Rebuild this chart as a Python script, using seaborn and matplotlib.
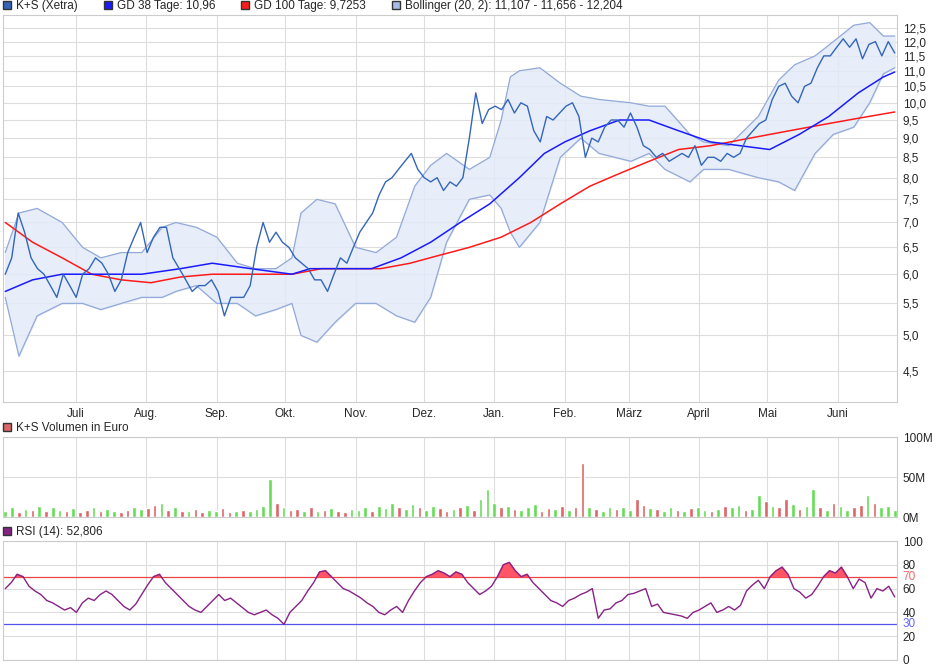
import numpy as np
import pandas as pd
import matplotlib
matplotlib.use('Agg')
import matplotlib.pyplot as plt
from matplotlib.patches import Patch
from matplotlib.ticker import FixedLocator, FuncFormatter
import seaborn as sns

sns.set_theme(style='white')
plt.rcParams['font.family'] = 'Liberation Sans'

START = pd.Timestamp('2020-05-31')
END_DAY = 391

PRICE = [6.0, 6.3, 7.2, 6.8, 6.3, 6.1, 6.0, 5.8, 5.6, 6.0, 5.8, 5.6, 6.0, 6.1, 6.3, 6.2, 6.0,
         5.7, 5.9, 6.4, 6.7, 7.0, 6.4, 6.7, 6.9, 6.9, 6.3, 6.1, 5.9, 5.7, 5.8, 5.8, 5.9, 5.7,
         5.3, 5.6, 5.6, 5.6, 5.8, 6.5, 7.0, 6.6, 6.8, 6.6, 6.5, 6.3, 6.2, 6.1, 5.9, 5.9, 5.7,
         6.0, 6.3, 6.2, 6.5, 6.8, 7.0, 7.2, 7.6, 7.9, 8.0, 8.2, 8.4, 8.6, 8.2, 8.0, 7.9, 8.0,
         7.7, 7.9, 7.8, 8.0, 9.0, 10.3, 9.4, 9.8, 9.9, 9.8, 10.1, 9.7, 10.0, 9.9, 9.2, 8.9,
         9.6, 9.5, 9.7, 9.9, 10.0, 9.6, 8.5, 9.0, 8.9, 9.3, 9.5, 9.5, 9.3, 9.7, 9.3, 8.8, 8.7,
         8.5, 8.6, 8.4, 8.5, 8.6, 8.5, 8.8, 8.3, 8.5, 8.5, 8.4, 8.6, 8.5, 8.6, 9.0, 9.2, 9.4,
         9.5, 10.1, 10.5, 10.6, 10.2, 10.0, 10.5, 10.6, 11.1, 11.5, 11.5, 11.8, 12.1, 11.8,
         12.1, 11.4, 11.9, 12.0, 11.5, 12.0, 11.6]

BOLL_DAY = [0, 6, 14, 25, 34, 42, 51, 60, 69, 75, 84, 93, 102, 110, 119, 126, 130, 137, 145,
            154, 163, 172, 180, 187, 194, 204, 213, 218, 222, 226, 235, 244, 253, 261, 275,
            283, 290, 301, 307, 318, 331, 340, 347, 356, 364, 373, 380, 386, 391]
BOLL_UP = [6.4, 7.2, 7.3, 7.0, 6.5, 6.3, 6.4, 6.4, 6.9, 7.0, 6.9, 6.7, 6.2, 6.1, 6.1, 6.3,
           7.2, 7.5, 7.4, 6.5, 6.4, 6.7, 7.8, 8.3, 8.6, 8.2, 8.5, 9.5, 10.8, 11.0, 11.1, 10.6,
           10.2, 10.1, 10.0, 9.9, 9.9, 9.1, 8.9, 8.8, 9.6, 10.7, 11.2, 11.5, 12.0, 12.6, 12.7,
           12.2, 12.2]
BOLL_LO = [5.6, 4.7, 5.3, 5.5, 5.5, 5.4, 5.5, 5.6, 5.6, 5.7, 5.8, 5.5, 5.5, 5.3, 5.4, 5.5,
           5.0, 4.9, 5.2, 5.5, 5.5, 5.3, 5.2, 5.6, 6.6, 7.5, 7.6, 7.3, 6.8, 6.5, 7.0, 8.5,
           9.0, 8.6, 8.4, 8.6, 8.2, 7.9, 8.2, 8.2, 8.0, 7.9, 7.7, 8.6, 9.1, 9.3, 10.0, 10.9,
           11.1]

GD38_DAY = [0, 12, 25, 42, 60, 77, 91, 108, 126, 134, 148, 161, 174, 187, 200, 213, 226,
            237, 246, 257, 270, 283, 296, 310, 323, 336, 349, 362, 375, 386, 391]
GD38 = [5.7, 5.9, 6.0, 6.0, 6.0, 6.1, 6.2, 6.1, 6.0, 6.1, 6.1, 6.1, 6.3, 6.6, 7.0, 7.4, 8.0,
        8.6, 8.9, 9.2, 9.5, 9.5, 9.2, 8.9, 8.8, 8.7, 9.1, 9.6, 10.3, 10.8, 10.96]

GD100_DAY = [0, 12, 25, 38, 51, 64, 77, 91, 108, 126, 139, 152, 165, 178, 191, 204, 218,
             231, 244, 257, 270, 283, 296, 310, 323, 336, 349, 362, 375, 391]
GD100 = [7.0, 6.6, 6.3, 6.0, 5.9, 5.85, 5.95, 6.0, 6.0, 6.0, 6.1, 6.1, 6.1, 6.2, 6.35, 6.5,
         6.7, 7.0, 7.4, 7.8, 8.1, 8.4, 8.7, 8.8, 8.95, 9.1, 9.25, 9.4, 9.55, 9.73]

VOLUME = [8, 12, 6, 10, 9, 14, 7, 12, 9, 8, 11, 6, 9, 13, 7, 10, 8, 6, 9, 12, 10, 11, 15, 18,
          9, 12, 8, 7, 10, 6, 9, 8, 11, 6, 7, 9, 8, 10, 14, 48, 18, 12, 9, 10, 8, 12, 7, 9,
          11, 8, 6, 10, 9, 12, 8, 14, 11, 18, 13, 10, 16, 12, 9, 14, 11, 8, 10, 12, 15, 9,
          22, 35, 18, 12, 14, 10, 9, 12, 16, 8, 11, 10, 14, 9, 13, 68, 12, 10, 8, 12, 10, 13,
          9, 22, 15, 11, 10, 8, 12, 9, 7, 11, 12, 9, 8, 10, 14, 12, 15, 9, 10, 28, 20, 14, 12,
          22, 16, 10, 14, 35, 12, 9, 18, 14, 9, 12, 15, 27, 18, 12, 14, 9]
VOL_UP = [1, 1, 0, 1, 0, 1, 0, 1, 1, 0, 1, 0, 0, 1, 0, 1, 1, 0, 0, 1, 1, 0, 0, 1, 0, 1, 0,
          1, 0, 0, 1, 1, 0, 0, 1, 0, 1, 1, 1, 1, 0, 1, 0, 0, 1, 0, 1, 0, 1, 0, 0, 1, 1, 1,
          0, 1, 1, 1, 0, 1, 1, 0, 1, 1, 0, 0, 1, 0, 1, 0, 1, 1, 1, 0, 1, 0, 1, 1, 1, 0, 0,
          1, 0, 1, 0, 0, 1, 0, 1, 1, 0, 1, 1, 0, 0, 1, 0, 1, 1, 0, 1, 0, 1, 1, 0, 1, 0, 1,
          1, 0, 1, 1, 0, 1, 0, 0, 1, 0, 1, 1, 0, 1, 0, 1, 1, 0, 0, 1, 0, 1]

RSI = [60, 65, 72, 70, 62, 58, 55, 50, 48, 45, 42, 44, 40, 48, 52, 50, 55, 58, 55, 50, 45,
       42, 47, 55, 63, 70, 72, 65, 60, 55, 50, 45, 42, 40, 45, 50, 55, 50, 52, 48, 44, 40,
       38, 40, 42, 38, 35, 30, 40, 45, 50, 58, 65, 74, 75, 70, 65, 60, 58, 55, 52, 48, 45,
       40, 38, 42, 45, 40, 50, 58, 65, 70, 72, 75, 73, 70, 74, 72, 65, 60, 55, 58, 62, 70,
       80, 82, 75, 70, 72, 65, 60, 55, 50, 48, 45, 50, 52, 55, 57, 60, 35, 42, 43, 48, 50,
       55, 56, 58, 60, 45, 47, 40, 39, 38, 37, 35, 40, 42, 45, 48, 40, 42, 45, 42, 46, 58,
       63, 67, 60, 70, 75, 78, 72, 60, 57, 52, 55, 62, 70, 75, 73, 78, 70, 60, 68, 65, 52,
       60, 58, 62, 53]

MONTHS = ['Juli', 'Aug.', 'Sep.', 'Okt.', 'Nov.', 'Dez.', 'Jan.', 'Feb.', 'März', 'April',
          'Mai', 'Juni']
PRICE_TICKS = [4.5, 5.0, 5.5, 6.0, 6.5, 7.0, 7.5, 8.0, 8.5, 9.0, 9.5, 10.0, 10.5, 11.0,
               11.5, 12.0, 12.5]


def even_dates(n):
    return pd.date_range(START, START + pd.Timedelta(days=END_DAY), periods=n)


def to_dates(days):
    return START + pd.to_timedelta(days, unit='D')


month_starts = pd.date_range('2020-07-01', '2021-06-01', freq='MS')
xmin, xmax = START - pd.Timedelta(days=1), START + pd.Timedelta(days=END_DAY + 1)
GRID = '#dddddd'

fig = plt.figure(figsize=(9.4, 6.7), dpi=100)
L, W = 3 / 940, 894 / 940
ax_p = fig.add_axes([L, 1 - 402 / 670, W, 387 / 670])
ax_v = fig.add_axes([L, 1 - 517 / 670, W, 80 / 670])
ax_r = fig.add_axes([L, 1 - 660 / 670, W, 119 / 670])


def style(ax):
    for s in ax.spines.values():
        s.set_color('#cccccc')
        s.set_linewidth(0.8)
    ax.yaxis.tick_right()
    ax.tick_params(axis='y', length=0, labelsize=8.5, pad=4)
    ax.set_xlim(xmin, xmax)
    for m in month_starts:
        ax.axvline(m, color=GRID, lw=0.8, zorder=0)
    ax.grid(axis='y', color=GRID, lw=0.8)
    ax.set_axisbelow(True)


# price panel
style(ax_p)
ax_p.set_yscale('log')
ax_p.set_ylim(4.10, 12.99)
ax_p.yaxis.set_major_locator(FixedLocator(PRICE_TICKS))
ax_p.yaxis.set_minor_locator(FixedLocator([]))
ax_p.yaxis.set_major_formatter(FuncFormatter(lambda v, _: f'{v:.1f}'.replace('.', ',')))
bd = to_dates(BOLL_DAY)
ax_p.fill_between(bd, BOLL_LO, BOLL_UP, color='#e3ebf8', alpha=0.85, zorder=1)
sns.lineplot(x=bd, y=BOLL_UP, ax=ax_p, color='#93a9d8', lw=0.9, zorder=2)
sns.lineplot(x=bd, y=BOLL_LO, ax=ax_p, color='#93a9d8', lw=0.9, zorder=2)
sns.lineplot(x=to_dates(GD100_DAY), y=GD100, ax=ax_p, color='#ff1a1a', lw=1.1, zorder=3)
sns.lineplot(x=to_dates(GD38_DAY), y=GD38, ax=ax_p, color='#1a1aff', lw=1.1, zorder=3)
sns.lineplot(x=even_dates(len(PRICE)), y=PRICE, ax=ax_p, color='#3366bb', lw=1.0, zorder=4)
ax_p.set_xticks(month_starts)
ax_p.set_xticklabels(MONTHS)
ax_p.tick_params(axis='x', length=0, labelsize=8.5, pad=4)
ax_p.set_xlabel('')
ax_p.set_ylabel('')

# volume panel
style(ax_v)
vd = even_dates(len(VOLUME))
vcol = ['#66dd55' if u else '#dd6666' for u in VOL_UP]
ax_v.bar(vd, VOLUME, width=1.6, color=vcol, zorder=2)
ax_v.set_ylim(0, 100)
ax_v.set_yticks([0, 50, 100])
ax_v.set_yticklabels(['0M', '50M', '100M'])
ax_v.set_xticks([])

# RSI panel
style(ax_r)
rd = even_dates(len(RSI))
rsi = np.array(RSI, dtype=float)
ax_r.fill_between(rd, 70, rsi, where=rsi > 70, interpolate=True, color='#ff5566', zorder=2)
ax_r.axhline(70, color='#ee4444', lw=0.9, zorder=1)
ax_r.axhline(30, color='#5555ee', lw=0.9, zorder=1)
sns.lineplot(x=rd, y=rsi, ax=ax_r, color='#882288', lw=1.0, zorder=3)
ax_r.set_ylim(0, 100)
ax_r.set_yticks([0, 20, 40, 60, 80, 100])
ax_r.set_xticks([])
ax_r.set_xlabel('')
ax_r.text(1.006, 70, '70', transform=ax_r.get_yaxis_transform(), color='#ff6666',
          fontsize=8.5, va='center')
ax_r.text(1.006, 30, '30', transform=ax_r.get_yaxis_transform(), color='#6666ff',
          fontsize=8.5, va='center')

legend_kw = dict(loc='center left', frameon=False, fontsize=8.5, handlelength=0.7,
                 handleheight=0.7, handletextpad=0.4, borderaxespad=0, borderpad=0)
handles = [Patch(facecolor='#3366bb', edgecolor='#333333', label='K+S (Xetra)'),
           Patch(facecolor='#1a1aff', edgecolor='#333333', label='GD 38 Tage: 10,96'),
           Patch(facecolor='#ff1a1a', edgecolor='#333333', label='GD 100 Tage: 9,7253'),
           Patch(facecolor='#a9bce6', edgecolor='#333333',
                 label='Bollinger (20, 2): 11,107 - 11,656 - 12,204')]
fig.legend(handles=handles, bbox_to_anchor=(3 / 940, 1 - 6 / 670), ncol=4,
           columnspacing=2.2, **legend_kw)
fig.legend(handles=[Patch(facecolor='#dd6666', edgecolor='#333333',
                          label='K+S Volumen in Euro')],
           bbox_to_anchor=(3 / 940, 1 - 428 / 670), **legend_kw)
fig.legend(handles=[Patch(facecolor='#882288', edgecolor='#333333',
                          label='RSI (14): 52,806')],
           bbox_to_anchor=(3 / 940, 1 - 532 / 670), **legend_kw)

fig.savefig('out.png', dpi=100)
